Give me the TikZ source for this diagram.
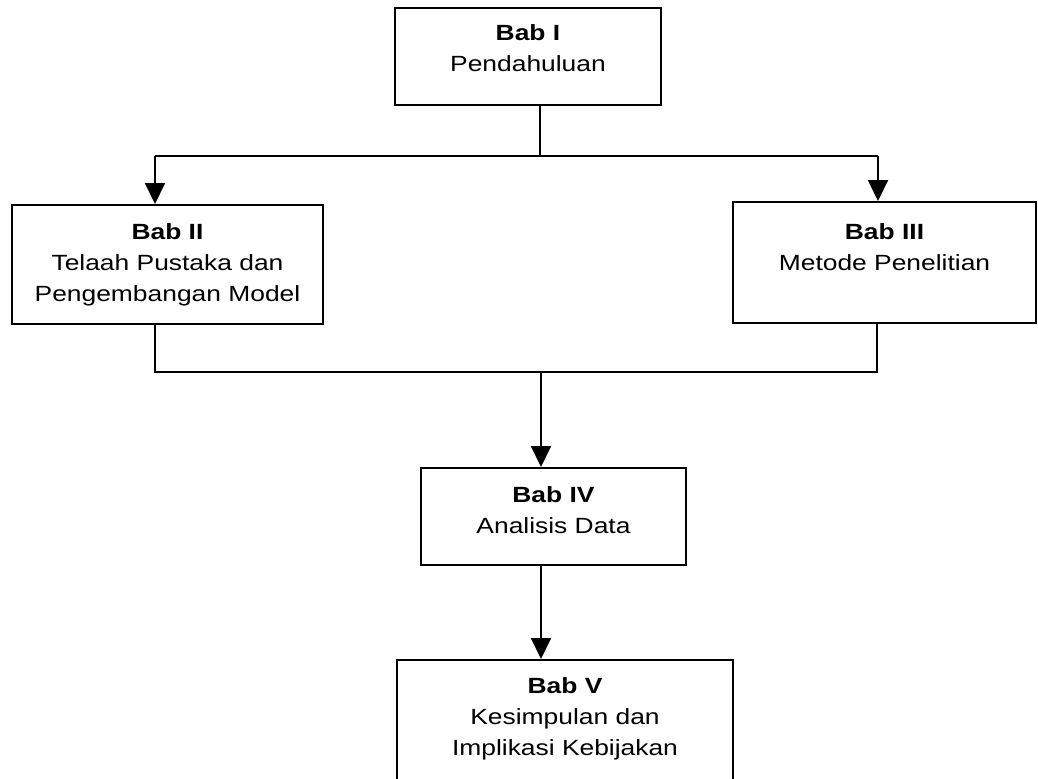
\documentclass[tikz,border=0pt]{standalone}
\usepackage{fontspec}
\setmainfont{Liberation Sans}[FakeStretch=1.2]
\usetikzlibrary{arrows.meta}

\tikzset{
bab box/.style={draw, rectangle, align=center, inner sep=0pt, font=\fontsize{16.5}{23.25}\selectfont},
bab arrow/.style={-{Triangle[length=15.75pt,width=15pt]}}}
\tikzset{every picture/.style={line width=1.5pt}}

\begin{document}
\begin{tikzpicture}[x=0.75pt,y=0.75pt,yscale=-1,xscale=1]
\useasboundingbox (0,0) rectangle (1038,778);
\clip (0,0) rectangle (1038,778);

%Shape: Rectangle [id:bab1]
\node[bab box, minimum width=199.5pt, minimum height=72.75pt, text depth=12pt] (bab1) at (528,56.5) {\textbf{Bab I}\\Pendahuluan};
%Shape: Rectangle [id:bab2]
\node[bab box, minimum width=233.25pt, minimum height=89.25pt] (bab2) at (167.5,264.5) {\textbf{Bab II}\\Telaah Pustaka dan\\Pengembangan Model};
%Shape: Rectangle [id:bab3]
\node[bab box, minimum width=227.25pt, minimum height=90.75pt] (bab3) at (884.5,262.5) {\textbf{Bab III}\\Metode Penelitian\\~};
%Shape: Rectangle [id:bab4]
\node[bab box, minimum width=198.75pt, minimum height=72.75pt, text depth=9pt] (bab4) at (553.5,516.5) {\textbf{Bab IV}\\Analisis Data};
%Shape: Rectangle [id:bab5]
\node[bab box, minimum width=252pt, minimum height=108.75pt] (bab5) at (565,732.5) {\textbf{Bab V}\\Kesimpulan dan\\Implikasi Kebijakan\\~};

%Straight Lines [id:split top]
\coordinate (topsplit) at (540,156);
\coordinate (lefttop) at (155,156);
\coordinate (righttop) at (878,156);
\draw (bab1.south -| topsplit) -- (topsplit);
\draw (lefttop) -- (righttop);
\draw[bab arrow] (lefttop) -- (lefttop |- bab2.north);
\draw[bab arrow] (righttop) -- (righttop |- bab3.north);

%Straight Lines [id:join bottom]
\coordinate (botsplit) at (541,372);
\coordinate (leftbot) at (155,372);
\coordinate (rightbot) at (877,372);
\draw (leftbot |- bab2.south) -- (leftbot) -- (rightbot) -- (rightbot |- bab3.south);
\draw[bab arrow] (botsplit) -- (botsplit |- bab4.north);
\draw[bab arrow] (bab4.south -| botsplit) -- (bab5.north -| botsplit);

\end{tikzpicture}
\end{document}
